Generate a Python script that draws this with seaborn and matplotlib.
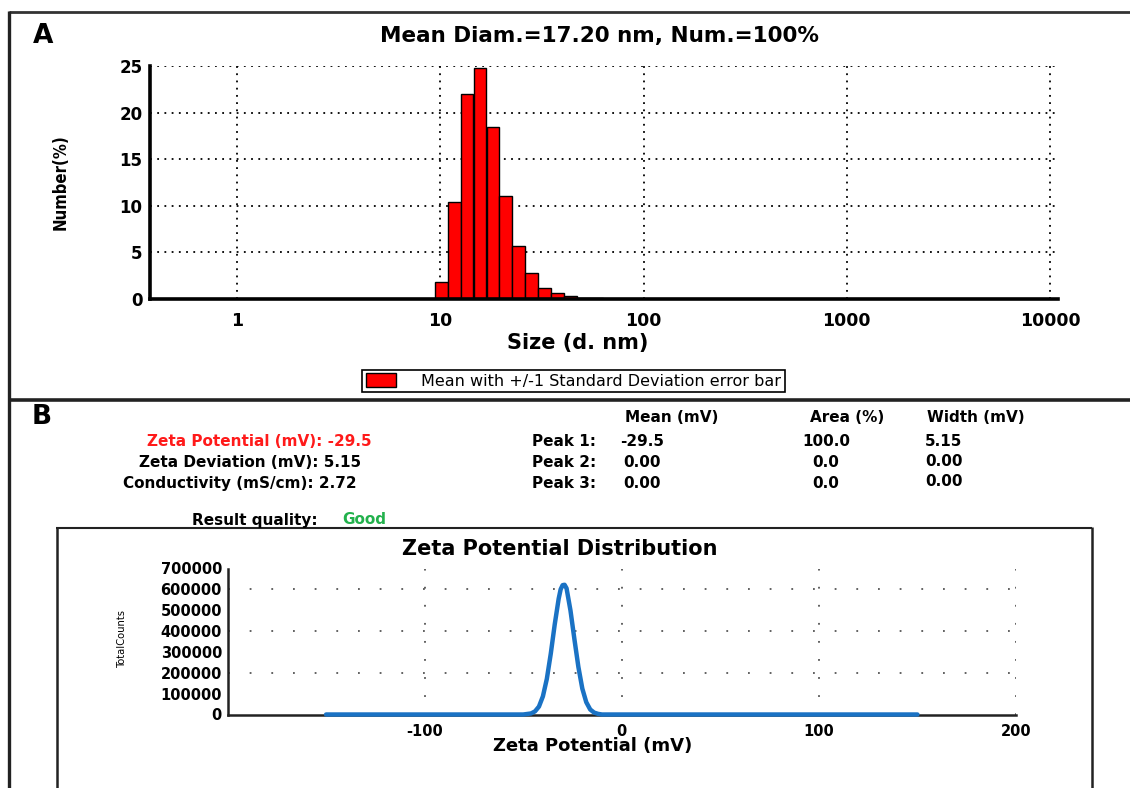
import matplotlib
matplotlib.use("Agg")
import matplotlib.pyplot as plt
import seaborn as sns
from matplotlib.lines import Line2D
from matplotlib.ticker import LogLocator, NullFormatter, MultipleLocator, FixedLocator

# ---------------- data ----------------
size_nm = [10.10, 11.70, 13.54, 15.69, 18.17, 21.04, 24.36, 28.21, 32.67, 37.84, 43.82, 50.75, 58.77, 68.06]
number_pct = [1.8, 10.4, 22.0, 24.8, 18.5, 11.0, 5.7, 2.8, 1.2, 0.6, 0.3, 0.15, 0.1, 0.05]
size_ticks = [1, 10, 100, 1000, 10000]
size_tick_labels = ["1", "10", "100", "1000", "10000"]
number_ticks = [0, 5, 10, 15, 20, 25]

zeta_mv = [-150, -60, -50, -46, -44, -42, -40, -38, -36, -34, -32, -31, -30, -29, -28, -26,
           -24, -22, -20, -18, -16, -14, -12, -10, 0, 150]
zeta_counts = [0, 0, 0, 5000, 15000, 38000, 87000, 171000, 292000, 432000, 555000, 600000,
               620000, 622000, 605000, 498000, 360000, 228000, 124000, 59000, 24000, 9000,
               3000, 0, 0, 0]
zeta_ticks = [-100, 0, 100, 200]
zeta_tick_labels = ["-100", "0", "100", "200"]
zeta_minor_ticks = [-200, -150, -50, 50, 150]
count_ticks = [0, 100000, 200000, 300000, 400000, 500000, 600000, 700000]
count_tick_labels = ["0", "100000", "200000", "300000", "400000", "500000", "600000", "700000"]
count_grid = [200000, 400000, 600000]

summary_labels = ["Zeta Potential (mV): -29.5", "Zeta Deviation (mV): 5.15", "Conductivity (mS/cm): 2.72"]
peak_names = ["Peak 1:", "Peak 2:", "Peak 3:"]
peak_mean = ["-29.5", "0.00", "0.00"]
peak_area = ["100.0", "0.0", "0.0"]
peak_width = ["5.15", "0.00", "0.00"]
table_headers = ["Mean (mV)", "Area (%)", "Width (mV)"]

# ---------------- style ----------------
sns.set_style("white")
plt.rcParams["font.family"] = ["DejaVu Sans"]
plt.rcParams["font.weight"] = "bold"
plt.rcParams["text.color"] = "black"
plt.rcParams["axes.labelcolor"] = "black"
plt.rcParams["xtick.color"] = "black"
plt.rcParams["ytick.color"] = "black"

W, H = 1130, 788
fig = plt.figure(figsize=(W / 100, H / 100), dpi=100)


def fx(x):
    return x / W


def fy(y):
    return 1 - y / H


# ---------------- panel A ----------------
axA = fig.add_axes([fx(150), fy(299), (1058 - 150) / W, (299 - 66) / H])
sns.barplot(x=size_nm, y=number_pct, native_scale=True, log_scale=(True, False), orient="x",
            width=1.0, color="#ff0000", saturation=1, edgecolor="black", linewidth=1,
            errorbar=None, label="Mean with +/-1 Standard Deviation error bar", ax=axA)
axA.set_xlim(0.373, 10950)
axA.set_ylim(0, 25)
axA.set_xticks(size_ticks)
axA.set_xticklabels(size_tick_labels)
axA.xaxis.set_minor_locator(LogLocator(base=10, subs=range(2, 10)))
axA.xaxis.set_minor_formatter(NullFormatter())
axA.set_yticks(number_ticks)
axA.yaxis.set_minor_locator(MultipleLocator(2.5))
axA.tick_params(axis="x", which="major", length=0, pad=9, labelsize=12.5)
axA.tick_params(axis="x", which="minor", direction="out", length=3, width=1.5, color="black")
axA.tick_params(axis="y", which="both", direction="inout", length=5, width=1.5, pad=3,
                labelsize=12, color="black")
axA.grid(True, which="major", color="black", linestyle=(0, (1, 3)), linewidth=1.3)
axA.set_axisbelow(True)
for s in ["top", "right"]:
    axA.spines[s].set_visible(False)
for s in ["left", "bottom"]:
    axA.spines[s].set_linewidth(2.6)
    axA.spines[s].set_color("black")
axA.set_xlabel("Size (d. nm)", fontsize=15, fontweight="bold")
axA.xaxis.set_label_coords((578 - 150) / 908, (299 - 333) / 233)
axA.set_ylabel("Number(%)", fontsize=12, fontweight="bold", fontstretch="condensed")
axA.yaxis.set_label_coords((70 - 150) / 908, 0.5)
leg = axA.legend(loc="center", bbox_to_anchor=(fx(573.5), fy(381)), bbox_transform=fig.transFigure,
                 frameon=True, fancybox=False, edgecolor="black", framealpha=1, borderpad=0.2,
                 handlelength=1.9, handleheight=0.9, handletextpad=1.6, borderaxespad=0,
                 prop={"size": 11.5, "weight": "normal"})
leg.get_frame().set_linewidth(1.2)

fig.text(fx(599), fy(36), "Mean Diam.=17.20 nm, Num.=100%", ha="center", va="center",
         fontsize=15.5, fontweight="bold")
fig.text(fx(43), fy(36), "A", ha="center", va="center", fontsize=19, fontweight="heavy")

# ---------------- panel B text ----------------
fig.text(fx(42), fy(417), "B", ha="center", va="center", fontsize=19, fontweight="heavy")
row_y = [442, 463, 484]
summary_x = [259, 250, 240]
fs_b = 11
for i, lab in enumerate(summary_labels):
    fig.text(fx(summary_x[i]), fy(row_y[i]), lab, ha="center", va="center", fontsize=fs_b,
             color="#ff1a1a" if i == 0 else "black")
for hx, hd in zip([672, 847, 976], table_headers):
    fig.text(fx(hx), fy(418), hd, ha="center", va="center", fontsize=fs_b)
width_y = [442, 461, 482]
for i in range(3):
    fig.text(fx(564), fy(row_y[i]), peak_names[i], ha="center", va="center", fontsize=fs_b)
    fig.text(fx(642), fy(row_y[i]), peak_mean[i], ha="center", va="center", fontsize=fs_b)
    fig.text(fx(826), fy(row_y[i]), peak_area[i], ha="center", va="center", fontsize=fs_b)
    fig.text(fx(944), fy(width_y[i]), peak_width[i], ha="center", va="center", fontsize=fs_b)
fig.text(fx(255), fy(520), "Result quality:", ha="center", va="center", fontsize=fs_b)
fig.text(fx(364), fy(520), "Good", ha="center", va="center", fontsize=fs_b, color="#22b14c")

# ---------------- panel B chart ----------------
axB = fig.add_axes([fx(227.5), fy(714.5), 788.5 / W, 146 / H])
sns.lineplot(x=zeta_mv, y=zeta_counts, ax=axB, color="#1a72c4", linewidth=3.2,
             clip_on=False, zorder=5)
axB.set_xlim(-200, 200)
axB.set_ylim(0, 700000)
axB.set_xticks(zeta_ticks)
axB.set_xticklabels(zeta_tick_labels)
axB.xaxis.set_minor_locator(FixedLocator(zeta_minor_ticks))
axB.set_yticks(count_ticks)
axB.set_yticklabels(count_tick_labels)
axB.yaxis.set_minor_locator(MultipleLocator(50000))
axB.tick_params(axis="x", which="both", direction="inout", length=4, width=1.2, pad=5,
                labelsize=10.5, color="#333333")
axB.tick_params(axis="y", which="both", direction="in", length=4, width=1.2, pad=4,
                labelsize=10.5, color="#333333")
for gy in count_grid:
    axB.axhline(gy, color="#555555", linestyle=(0, (1, 11)), linewidth=1.3, zorder=0)
for gx in zeta_ticks:
    axB.axvline(gx, color="#555555", linestyle=(0, (1, 9)), linewidth=1.3, zorder=0)
for s in ["top", "right"]:
    axB.spines[s].set_visible(False)
for s in ["left", "bottom"]:
    axB.spines[s].set_linewidth(1.8)
    axB.spines[s].set_color("#222222")
axB.set_xlabel("Zeta Potential (mV)", fontsize=13, fontweight="bold")
axB.xaxis.set_label_coords((593 - 227.5) / 788.5, (714.5 - 737) / 146)
axB.set_ylabel("TotalCounts", fontsize=8, fontweight="normal", fontstretch="condensed")
axB.yaxis.set_label_coords((127 - 227.5) / 788.5, (714.5 - 638) / 146)
fig.text(fx(560), fy(549), "Zeta Potential Distribution", ha="center", va="center",
         fontsize=15, fontweight="bold")

# ---------------- frames ----------------
def fline(x0, y0, x1, y1, lw, color="#222222"):
    fig.add_artist(Line2D([fx(x0), fx(x1)], [fy(y0), fy(y1)], color=color, linewidth=lw,
                          solid_capstyle="butt"))


fline(9, 12, 1130, 12, 2.0, "#333333")
fline(9, 11, 9, 788, 2.4)
fline(8, 400, 1130, 400, 2.6)
fline(56.5, 528, 56.5, 788, 1.8)
fline(56, 528, 1092, 528, 1.5)
fline(1092, 527, 1092, 788, 1.8)

fig.savefig("out.png", dpi=100)
